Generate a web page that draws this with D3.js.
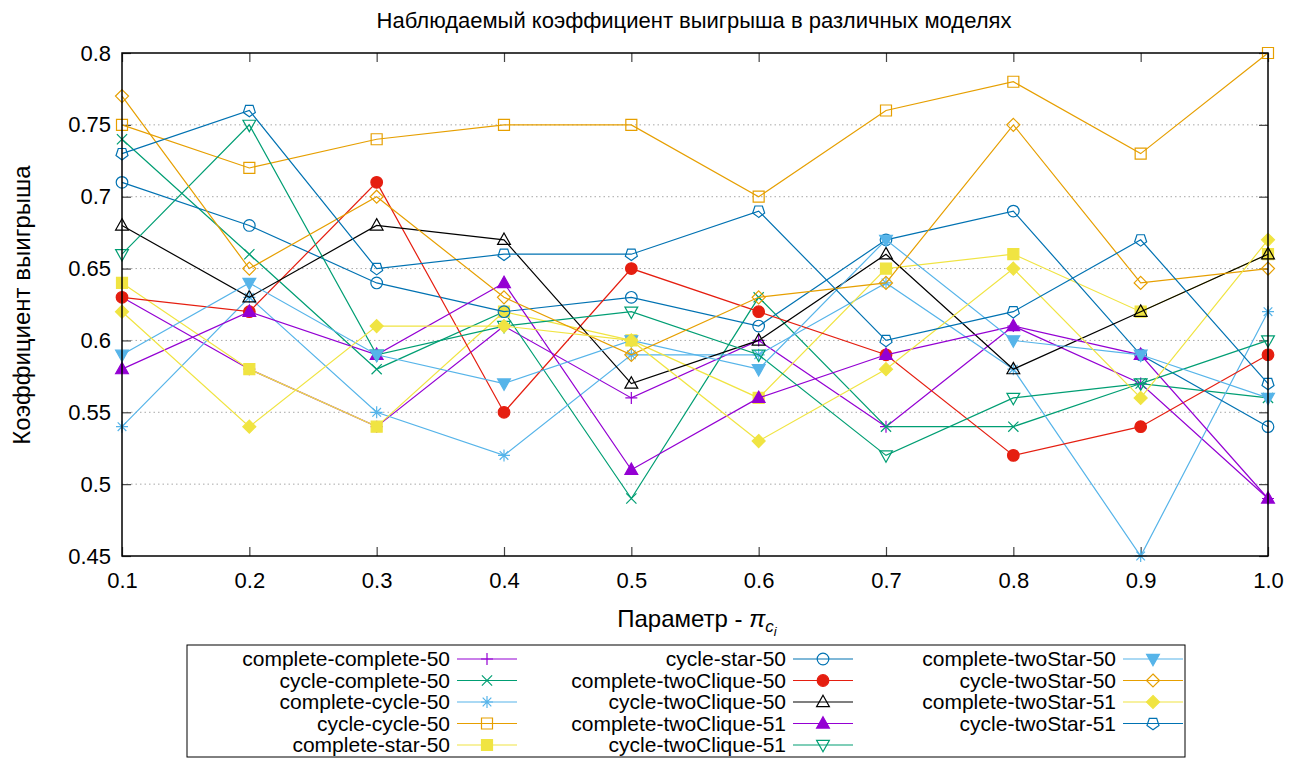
<!DOCTYPE html>
<html>
<head>
<meta charset="utf-8">
<script src="https://cdn.jsdelivr.net/npm/d3@7"></script>
<style>
  html, body { margin: 0; padding: 0; background: #fff; }
  svg text { font-family: "Liberation Sans", Arial, Helvetica, sans-serif; fill: #000; }
</style>
</head>
<body>
<svg id="chart" width="1299" height="758"></svg>
<script>
// Parameter values along the x axis
const paramValues = [0.1, 0.2, 0.3, 0.4, 0.5, 0.6, 0.7, 0.8, 0.9, 1.0];
const xTickLabels = ["0.1", "0.2", "0.3", "0.4", "0.5", "0.6", "0.7", "0.8", "0.9", "1.0"];
const yTickValues = [0.45, 0.5, 0.55, 0.6, 0.65, 0.7, 0.75, 0.8];
const yTickLabels = ["0.45", "0.5", "0.55", "0.6", "0.65", "0.7", "0.75", "0.8"];

// Observed win rate for each model
const completeComplete50   = [0.63, 0.58, 0.54, 0.61, 0.56, 0.60, 0.54, 0.61, 0.57, 0.49];
const cycleComplete50      = [0.74, 0.66, 0.58, 0.62, 0.49, 0.63, 0.54, 0.54, 0.57, 0.56];
const completeCycle50      = [0.54, 0.63, 0.55, 0.52, 0.59, 0.59, 0.64, 0.58, 0.45, 0.62];
const cycleCycle50         = [0.75, 0.72, 0.74, 0.75, 0.75, 0.70, 0.76, 0.78, 0.73, 0.80];
const completeStar50       = [0.64, 0.58, 0.54, 0.62, 0.60, 0.56, 0.65, 0.66, 0.62, 0.66];
const cycleStar50          = [0.71, 0.68, 0.64, 0.62, 0.63, 0.61, 0.67, 0.69, 0.59, 0.54];
const completeTwoClique50  = [0.63, 0.62, 0.71, 0.55, 0.65, 0.62, 0.59, 0.52, 0.54, 0.59];
const cycleTwoClique50     = [0.68, 0.63, 0.68, 0.67, 0.57, 0.60, 0.66, 0.58, 0.62, 0.66];
const completeTwoClique51  = [0.58, 0.62, 0.59, 0.64, 0.51, 0.56, 0.59, 0.61, 0.59, 0.49];
const cycleTwoClique51     = [0.66, 0.75, 0.59, 0.61, 0.62, 0.59, 0.52, 0.56, 0.57, 0.60];
const completeTwoStar50    = [0.59, 0.64, 0.59, 0.57, 0.60, 0.58, 0.67, 0.60, 0.59, 0.56];
const cycleTwoStar50       = [0.77, 0.65, 0.70, 0.63, 0.59, 0.63, 0.64, 0.75, 0.64, 0.65];
const completeTwoStar51    = [0.62, 0.54, 0.61, 0.61, 0.60, 0.53, 0.58, 0.65, 0.56, 0.67];
const cycleTwoStar51       = [0.73, 0.76, 0.65, 0.66, 0.66, 0.69, 0.60, 0.62, 0.67, 0.57];

const seriesNames = [
  "complete-complete-50", "cycle-complete-50", "complete-cycle-50", "cycle-cycle-50",
  "complete-star-50", "cycle-star-50", "complete-twoClique-50", "cycle-twoClique-50",
  "complete-twoClique-51", "cycle-twoClique-51", "complete-twoStar-50", "cycle-twoStar-50",
  "complete-twoStar-51", "cycle-twoStar-51"
];
const seriesValues = [
  completeComplete50, cycleComplete50, completeCycle50, cycleCycle50,
  completeStar50, cycleStar50, completeTwoClique50, cycleTwoClique50,
  completeTwoClique51, cycleTwoClique51, completeTwoStar50, cycleTwoStar50,
  completeTwoStar51, cycleTwoStar51
];

// Styling: line colours and point shapes per series
const palette = ["#9400d3", "#009e73", "#56b4e9", "#e69f00", "#f0e442", "#0072b2", "#e51e10", "#000000"];
const seriesColors = seriesNames.map((_, i) => palette[i % palette.length]);
const seriesMarkers = [
  "plus", "cross", "asterisk", "squareOpen", "squareFilled", "circleOpen", "circleFilled",
  "triangleOpen", "triangleFilled", "invTriangleOpen", "invTriangleFilled", "diamondOpen",
  "diamondFilled", "pentagonOpen"
];

const FONT = 22;
const svg = d3.select("#chart");
const plot = { left: 122, right: 1268, top: 53, bottom: 556 };

const x = d3.scaleLinear().domain([0.1, 1.0]).range([plot.left, plot.right]);
const y = d3.scaleLinear().domain([0.45, 0.8]).range([plot.bottom, plot.top]);

// Horizontal dotted grid
svg.append("g").selectAll("line")
  .data(yTickValues.filter(v => v > 0.45 && v < 0.8))
  .join("line")
  .attr("x1", plot.left).attr("x2", plot.right)
  .attr("y1", d => y(d)).attr("y2", d => y(d))
  .attr("stroke", "#a8a8a8").attr("stroke-width", 1)
  .attr("stroke-dasharray", "1.5,3");

// Axes with inward ticks on all four sides
const tickLen = 9;
const axisLeft = d3.axisLeft(y).tickValues(yTickValues)
  .tickFormat((d, i) => yTickLabels[i]).tickSizeInner(-tickLen).tickSizeOuter(0).tickPadding(11);
const axisRight = d3.axisRight(y).tickValues(yTickValues)
  .tickFormat("").tickSizeInner(-tickLen).tickSizeOuter(0);
const axisBottom = d3.axisBottom(x).tickValues(paramValues)
  .tickFormat((d, i) => xTickLabels[i]).tickSizeInner(-tickLen).tickSizeOuter(0).tickPadding(16);
const axisTop = d3.axisTop(x).tickValues(paramValues)
  .tickFormat("").tickSizeInner(-tickLen).tickSizeOuter(0);

function styleAxis(g) {
  g.select(".domain").remove();
  g.selectAll(".tick line").attr("stroke", "#444").attr("stroke-width", 1.2);
  g.selectAll(".tick text").style("font-size", FONT + "px").attr("fill", "#000");
}
svg.append("g").attr("transform", `translate(${plot.left},0)`).call(axisLeft).call(styleAxis);
svg.append("g").attr("transform", `translate(${plot.right},0)`).call(axisRight).call(styleAxis);
svg.append("g").attr("transform", `translate(0,${plot.bottom})`).call(axisBottom).call(styleAxis);
svg.append("g").attr("transform", `translate(0,${plot.top})`).call(axisTop).call(styleAxis);

// Marker shapes
function markerPath(type) {
  const s = 6;
  switch (type) {
    case "plus": return `M${-s},0H${s}M0,${-s}V${s}`;
    case "cross": { const c = s * 0.85; return `M${-c},${-c}L${c},${c}M${-c},${c}L${c},${-c}`; }
    case "asterisk": { const c = s * 0.72; return `M${-s},0H${s}M0,${-s}V${s}M${-c},${-c}L${c},${c}M${-c},${c}L${c},${-c}`; }
    case "squareOpen": case "squareFilled": { const h = 5.5; return `M${-h},${-h}H${h}V${h}H${-h}Z`; }
    case "circleOpen": case "circleFilled": { const r = 5.8; return `M${r},0A${r},${r},0,1,1,${-r},0A${r},${r},0,1,1,${r},0Z`; }
    case "triangleOpen": case "triangleFilled": return `M0,${-6.8}L${6.4},${4.6}L${-6.4},${4.6}Z`;
    case "invTriangleOpen": case "invTriangleFilled": return `M0,${6.8}L${6.4},${-4.6}L${-6.4},${-4.6}Z`;
    case "diamondOpen": case "diamondFilled": return `M0,${-6.5}L${6.5},0L0,${6.5}L${-6.5},0Z`;
    case "pentagonOpen": {
      const r = 6.3;
      const pts = d3.range(5).map(k => {
        const a = Math.PI / 2 + k * 2 * Math.PI / 5;
        return [r * Math.cos(a), r * Math.sin(a)];
      });
      return "M" + pts.map(p => p.join(",")).join("L") + "Z";
    }
  }
  return "";
}
function isFilled(type) { return /Filled$/.test(type); }

function drawMarker(g, type, cx, cy, color) {
  g.append("path")
    .attr("d", markerPath(type))
    .attr("transform", `translate(${cx},${cy})`)
    .attr("fill", isFilled(type) ? color : "none")
    .attr("stroke", color)
    .attr("stroke-width", 1.2);
}

// Series lines and points
const line = d3.line().x((d, i) => x(paramValues[i])).y(d => y(d));
const seriesLayer = svg.append("g");
seriesValues.forEach((vals, s) => {
  const g = seriesLayer.append("g");
  g.append("path").datum(vals)
    .attr("d", line)
    .attr("fill", "none")
    .attr("stroke", seriesColors[s])
    .attr("stroke-width", 1.2);
  vals.forEach((v, i) => drawMarker(g, seriesMarkers[s], x(paramValues[i]), y(v), seriesColors[s]));
});

// Plot frame
svg.append("rect")
  .attr("x", plot.left).attr("y", plot.top)
  .attr("width", plot.right - plot.left).attr("height", plot.bottom - plot.top)
  .attr("fill", "none").attr("stroke", "#000").attr("stroke-width", 1.5);

// Title
svg.append("text")
  .attr("x", 694).attr("y", 28)
  .attr("text-anchor", "middle")
  .style("font-size", "22px")
  .text("Наблюдаемый коэффициент выигрыша в различных моделях");

// Axis titles
svg.append("text")
  .attr("transform", "translate(30,305) rotate(-90)")
  .attr("text-anchor", "middle")
  .style("font-size", "24px")
  .text("Коэффициент выигрыша");

const xLabel = svg.append("text")
  .attr("x", 697).attr("y", 627)
  .attr("text-anchor", "middle")
  .style("font-size", "24px");
xLabel.append("tspan").text("Параметр - ");
xLabel.append("tspan").style("font-style", "italic").text("π");
xLabel.append("tspan").style("font-style", "italic").style("font-size", "17px").attr("dy", 5).text("c");
xLabel.append("tspan").style("font-style", "italic").style("font-size", "13px").attr("dy", 4).text("i");

// Legend
const legend = { left: 187, top: 645, right: 1185, bottom: 757 };
svg.append("rect")
  .attr("x", legend.left).attr("y", legend.top)
  .attr("width", legend.right - legend.left).attr("height", legend.bottom - legend.top)
  .attr("fill", "#fff").attr("stroke", "#000").attr("stroke-width", 1);

const colTextRight = [450, 786, 1116];
const sampleLen = 60;
const rowY0 = 659, rowStep = 21.5, rowsPerCol = 5;
seriesNames.forEach((name, i) => {
  const col = Math.floor(i / rowsPerCol), row = i % rowsPerCol;
  const ty = rowY0 + row * rowStep;
  const tx = colTextRight[col];
  const g = svg.append("g");
  g.append("text")
    .attr("x", tx).attr("y", ty).attr("dy", "0.35em")
    .attr("text-anchor", "end")
    .style("font-size", "21px")
    .text(name);
  const lx1 = tx + 7, lx2 = tx + 7 + sampleLen;
  g.append("line")
    .attr("x1", lx1).attr("x2", lx2).attr("y1", ty).attr("y2", ty)
    .attr("stroke", seriesColors[i]).attr("stroke-width", 1.2);
  drawMarker(g, seriesMarkers[i], (lx1 + lx2) / 2, ty, seriesColors[i]);
});
</script>
</body>
</html>
